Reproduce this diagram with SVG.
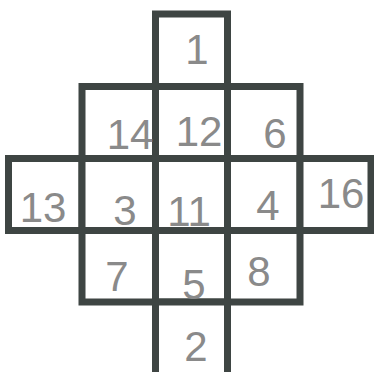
<svg xmlns="http://www.w3.org/2000/svg" width="374" height="372" viewBox="0 0 374 372">
<style>
.c{fill:#ffffff;stroke:#3e4543;stroke-width:7}
.t{font-family:"Liberation Sans",Arial,sans-serif;font-size:42px;fill:#8a8a8a;text-anchor:middle}
</style>
<rect width="374" height="372" fill="#ffffff"/>
<g id="cells">
<g id="n1"><rect class="c" x="155.5" y="14" width="72" height="72.5"/></g>
<g id="n14"><rect class="c" x="82" y="86.5" width="73.5" height="72"/></g>
<g id="n12"><rect class="c" x="155.5" y="86.5" width="72" height="72"/></g>
<g id="n6"><rect class="c" x="227.5" y="86.5" width="72.5" height="72"/></g>
<g id="n13"><rect class="c" x="8.5" y="158.5" width="73.5" height="72"/></g>
<g id="n3"><rect class="c" x="82" y="158.5" width="73.5" height="72"/></g>
<g id="n11"><rect class="c" x="155.5" y="158.5" width="72" height="72"/></g>
<g id="n4"><rect class="c" x="227.5" y="158.5" width="72.5" height="72"/></g>
<g id="n16"><rect class="c" x="300" y="158.5" width="71" height="72"/></g>
<g id="n7"><rect class="c" x="82" y="230.5" width="73.5" height="71.5"/></g>
<g id="n5"><rect class="c" x="155.5" y="230.5" width="72" height="71.5"/></g>
<g id="n8"><rect class="c" x="227.5" y="230.5" width="72.5" height="71.5"/></g>
<g id="n2"><rect class="c" x="155.5" y="302" width="72" height="80"/></g>
</g>
<g id="labels">
<text class="t" x="197" y="64">1</text>
<text class="t" x="130" y="149">14</text>
<text class="t" x="199" y="146">12</text>
<text class="t" x="275" y="148">6</text>
<text class="t" x="43" y="222">13</text>
<text class="t" x="125" y="225">3</text>
<text class="t" x="189" y="226">11</text>
<text class="t" x="268" y="220">4</text>
<text class="t" x="341" y="208">16</text>
<text class="t" x="117" y="291">7</text>
<text class="t" x="194" y="299">5</text>
<text class="t" x="259" y="286">8</text>
<text class="t" x="196" y="361">2</text>
</g>
</svg>
